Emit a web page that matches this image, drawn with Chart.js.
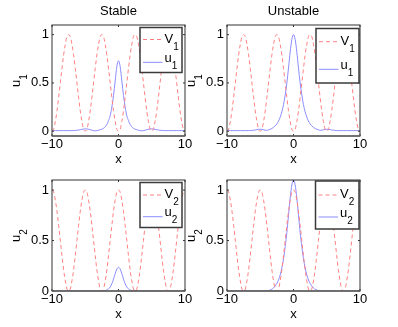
<!DOCTYPE html>
<html>
<head>
<meta charset="utf-8">
<script src="https://cdn.jsdelivr.net/npm/chart.js@4.4.0/dist/chart.umd.min.js"></script>
<style>
  body { margin: 0; background: #fff; }
  #wrap { position: relative; width: 398px; height: 327px; }
  #wrap canvas { position: absolute; left: 0; top: 0; }
</style>
</head>
<body>
<div id="wrap">
  <canvas id="c1" width="398" height="327"></canvas>
  <canvas id="c2" width="398" height="327"></canvas>
  <canvas id="c3" width="398" height="327"></canvas>
  <canvas id="c4" width="398" height="327"></canvas>
</div>
<script>
// x grid
const xs = [-10,-9.75,-9.5,-9.25,-9,-8.75,-8.5,-8.25,-8,-7.75,-7.5,-7.25,-7,-6.75,-6.5,-6.25,-6,-5.75,-5.5,-5.25,
  -5,-4.75,-4.5,-4.25,-4,-3.75,-3.5,-3.25,-3,-2.75,-2.5,-2.25,-2,-1.75,-1.5,-1.25,-1,-0.75,-0.5,-0.25,
  0,0.25,0.5,0.75,1,1.25,1.5,1.75,2,2.25,2.5,2.75,3,3.25,3.5,3.75,4,4.25,4.5,4.75,
  5,5.25,5.5,5.75,6,6.25,6.5,6.75,7,7.25,7.5,7.75,8,8.25,8.5,8.75,9,9.25,9.5,9.75,10];

// potentials
const V1 = [0,.02,.1,.21,.35,.5,.65,.79,.9,.98,1,.98,.9,.79,.65,.5,.35,.21,.1,.02,
  0,.02,.1,.21,.35,.5,.65,.79,.9,.98,1,.98,.9,.79,.65,.5,.35,.21,.1,.02,
  0,.02,.1,.21,.35,.5,.65,.79,.9,.98,1,.98,.9,.79,.65,.5,.35,.21,.1,.02,
  0,.02,.1,.21,.35,.5,.65,.79,.9,.98,1,.98,.9,.79,.65,.5,.35,.21,.1,.02,
  0];
const V2 = [1,.98,.9,.79,.65,.5,.35,.21,.1,.02,0,.02,.1,.21,.35,.5,.65,.79,.9,.98,
  1,.98,.9,.79,.65,.5,.35,.21,.1,.02,0,.02,.1,.21,.35,.5,.65,.79,.9,.98,
  1,.98,.9,.79,.65,.5,.35,.21,.1,.02,0,.02,.1,.21,.35,.5,.65,.79,.9,.98,
  1,.98,.9,.79,.65,.5,.35,.21,.1,.02,0,.02,.1,.21,.35,.5,.65,.79,.9,.98,
  1];

// solutions
const u1Stable = [.006,.006,.006,.006,.006,.006,.006,.006,.006,.006,.006,.006,.006,.006,
  .008,.01,.012,.015,.019,.022,
  .024,.023,.02,.015,.01,.006,.004,.006,.01,.015,
  .02,.03,.045,.07,.11,.16,.25,.37,.52,.67,
  .73,
  .67,.52,.37,.25,.16,.11,.07,.045,.03,.02,
  .015,.01,.006,.004,.006,.01,.015,.02,.023,.024,
  .022,.019,.015,.012,.01,.008,
  .006,.006,.006,.006,.006,.006,.006,.006,.006,.006,.006,.006,.006,.006];
const u1Unstable = [.006,.006,.006,.006,.006,.006,.006,.006,.006,.006,.006,.006,.006,.006,.006,
  .008,.01,.012,.016,.019,
  .02,.018,.014,.01,.009,.013,.02,.028,.04,.055,
  .075,.105,.145,.2,.275,.375,.5,.655,.82,.95,
  1,
  .95,.82,.655,.5,.375,.275,.2,.145,.105,.075,
  .055,.04,.028,.02,.013,.009,.01,.014,.018,.02,
  .019,.016,.012,.01,.008,
  .006,.006,.006,.006,.006,.006,.006,.006,.006,.006,.006,.006,.006,.006,.006];
const u2Stable = [0,0,0,0,0,0,0,0,0,0,0,0,0,0,0,0,0,0,0,0,0,0,0,0,0,0,0,0,0,0,
  .001,.002,.005,.01,.021,.04,.072,.118,.172,.218,
  .235,
  .218,.172,.118,.072,.04,.021,.01,.005,.002,.001,
  0,0,0,0,0,0,0,0,0,0,0,0,0,0,0,0,0,0,0,0,0,0,0,0,0,0,0,0,0,0];
const u2Unstable = [0,0,0,0,0,0,0,0,0,0,0,0,0,0,0,0,0,0,0,0,0,0,0,0,
  .002,.005,.01,.018,.03,.05,.075,.11,.16,.23,.32,.44,.58,.75,.92,1.05,
  1.1,
  1.05,.92,.75,.58,.44,.32,.23,.16,.11,.075,.05,.03,.018,.01,.005,.002,
  0,0,0,0,0,0,0,0,0,0,0,0,0,0,0,0,0,0,0,0,0,0,0,0];

const xTicks = [-10, 0, 10];
const yTicks = [0, 0.5, 1];

const RED = '#ff8080';
const BLUE = '#8c8cff';
const FONT = '"Liberation Sans", Arial, Helvetica, sans-serif';

const panels = [
  { id: 'c1', title: 'Stable', sub: '1', v: V1, u: u1Stable, yMin: -0.05,
    box: { l: 52, t: 25, r: 185, b: 136 },
    leg: { l: 140, t: 27.5, r: 182, b: 72.5, rows: [39.5, 62.3] } },
  { id: 'c2', title: 'Unstable', sub: '1', v: V1, u: u1Unstable, yMin: -0.05,
    box: { l: 227, t: 25, r: 360, b: 136 },
    leg: { l: 316, t: 28.5, r: 359, b: 83, rows: [41.7, 69.3] } },
  { id: 'c3', title: '', sub: '2', v: V2, u: u2Stable, yMin: 0,
    box: { l: 52, t: 180, r: 185, b: 291 },
    leg: { l: 140, t: 182.5, r: 182, b: 227.5, rows: [195, 216.7] } },
  { id: 'c4', title: '', sub: '2', v: V2, u: u2Unstable, yMin: 0,
    box: { l: 227, t: 180, r: 360, b: 291 },
    leg: { l: 315.5, t: 181, r: 359, b: 229, rows: [195, 217] } }
];

// text with a lowered subscript
function subText(ctx, main, sub, x, y, size) {
  ctx.font = size + 'px ' + FONT;
  ctx.fillText(main, x, y);
  const w = ctx.measureText(main).width;
  ctx.font = (size - 3) + 'px ' + FONT;
  ctx.fillText(sub, x + w, y + 7);
}

const decor = {
  id: 'decor',
  afterDraw(chart, args, o) {
    const ctx = chart.ctx, a = chart.chartArea;
    const sx = chart.scales.x, sy = chart.scales.y;
    ctx.save();
    // box and inward ticks
    ctx.strokeStyle = '#333';
    ctx.lineWidth = 1;
    ctx.strokeRect(a.left, a.top, a.right - a.left, a.bottom - a.top);
    ctx.beginPath();
    xTicks.forEach(v => {
      const p = sx.getPixelForValue(v);
      ctx.moveTo(p, a.bottom); ctx.lineTo(p, a.bottom - 2);
      ctx.moveTo(p, a.top); ctx.lineTo(p, a.top + 2);
    });
    yTicks.forEach(v => {
      const p = sy.getPixelForValue(v);
      ctx.moveTo(a.left, p); ctx.lineTo(a.left + 2, p);
      ctx.moveTo(a.right, p); ctx.lineTo(a.right - 2, p);
    });
    ctx.stroke();
    ctx.strokeStyle = '#666';
    ctx.lineWidth = 1.5;
    ctx.beginPath();
    ctx.moveTo(a.left, a.bottom); ctx.lineTo(a.right, a.bottom);
    ctx.stroke();

    // title and x label
    ctx.fillStyle = '#000';
    ctx.textAlign = 'center';
    ctx.textBaseline = 'alphabetic';
    ctx.font = '13px ' + FONT;
    const xc = (a.left + a.right) / 2;
    if (o.title) ctx.fillText(o.title, xc, a.top - 10);
    ctx.fillText('x', xc, a.bottom + 26.5);

    // y label, rotated
    ctx.save();
    ctx.translate(a.left - 32, (a.top + a.bottom) / 2);
    ctx.rotate(-Math.PI / 2);
    ctx.textAlign = 'left';
    ctx.font = '13px ' + FONT;
    const wu = ctx.measureText('u').width;
    ctx.font = '10px ' + FONT;
    const ws = ctx.measureText(o.sub).width;
    subText(ctx, 'u', o.sub, -(wu + ws) / 2, 0, 13);
    ctx.restore();

    // legend
    const L = o.leg;
    ctx.fillStyle = '#fff';
    ctx.fillRect(L.l, L.t, L.r - L.l, L.b - L.t);
    ctx.strokeStyle = '#3a3a3a';
    ctx.lineWidth = 1.5;
    ctx.strokeRect(L.l, L.t, L.r - L.l, L.b - L.t);
    ctx.lineWidth = 1;
    ctx.strokeStyle = RED;
    ctx.setLineDash([4, 3]);
    ctx.beginPath();
    ctx.moveTo(L.l + 3, L.rows[0]); ctx.lineTo(L.l + 22.5, L.rows[0]);
    ctx.stroke();
    ctx.setLineDash([]);
    ctx.strokeStyle = BLUE;
    ctx.beginPath();
    ctx.moveTo(L.l + 3, L.rows[1]); ctx.lineTo(L.l + 22.5, L.rows[1]);
    ctx.stroke();
    ctx.fillStyle = '#000';
    ctx.textAlign = 'left';
    subText(ctx, 'V', o.sub, L.l + 24.5, L.rows[0] + 3, 13);
    subText(ctx, 'u', o.sub, L.l + 24.5, L.rows[1] - 0.5, 13);
    ctx.restore();
  }
};

panels.forEach(p => {
  const W = 398, H = 327, yW = 40, xH = 20;
  new Chart(document.getElementById(p.id), {
    type: 'line',
    data: {
      datasets: [
        { data: xs.map((x, i) => ({ x: x, y: p.v[i] })), borderColor: RED, borderWidth: 1,
          borderDash: [4, 3], pointRadius: 0, cubicInterpolationMode: 'monotone' },
        { data: xs.map((x, i) => ({ x: x, y: p.u[i] })), borderColor: BLUE, borderWidth: 1,
          pointRadius: 0, cubicInterpolationMode: 'monotone' }
      ]
    },
    options: {
      responsive: false,
      animation: false,
      devicePixelRatio: 1,
      layout: {
        autoPadding: false,
        padding: { left: p.box.l - yW, top: p.box.t, right: W - p.box.r, bottom: H - p.box.b - xH }
      },
      plugins: {
        legend: { display: false },
        tooltip: { enabled: false },
        decor: { title: p.title, sub: p.sub, leg: p.leg }
      },
      scales: {
        x: {
          type: 'linear', min: -10, max: 10,
          afterFit: s => { s.height = xH; },
          afterBuildTicks: s => { s.ticks = xTicks.map(v => ({ value: v })); },
          grid: { display: false, drawTicks: false },
          border: { display: false },
          ticks: { padding: 1, color: '#000', font: { family: FONT, size: 13 },
            maxRotation: 0, callback: v => String(v).replace('-', '\u2212') }
        },
        y: {
          type: 'linear', min: p.yMin, max: 1.1,
          afterFit: s => { s.width = yW; },
          afterBuildTicks: s => { s.ticks = yTicks.map(v => ({ value: v })); },
          grid: { display: false, drawTicks: false },
          border: { display: false },
          ticks: { padding: 3, color: '#000', font: { family: FONT, size: 13 },
            callback: v => String(v) }
        }
      }
    },
    plugins: [decor]
  });
});
</script>
</body>
</html>
